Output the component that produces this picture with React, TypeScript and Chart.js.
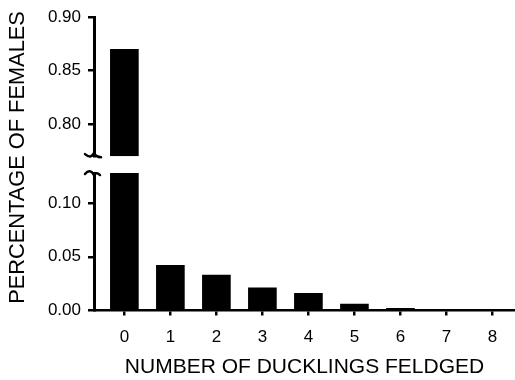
import React, { useEffect, useRef } from "react";
import { Chart, registerables } from "chart.js";

Chart.register(...registerables);

// Number of ducklings fledged per female and the share of females at each count
const ducklings = [0, 1, 2, 3, 4, 5, 6, 7, 8];
const femaleShare = [0.87, 0.042, 0.033, 0.021, 0.016, 0.006, 0.002, 0.001, 0.0005];

// Broken y axis: an upper and a lower segment
const upperRange = [0.77, 0.9];
const lowerRange = [0, 0.128];
const upperTicks = [0.8, 0.85, 0.9];
const lowerTicks = [0, 0.05, 0.1];

const xTitle = "NUMBER OF DUCKLINGS FELDGED";
const yTitle = "PERCENTAGE OF FEMALES";

const FONT = "'Liberation Sans', Arial, Helvetica, sans-serif";
const INK = "#000";

// Keep each dataset inside the band of its own y scale
const clipToOwnScale = {
  id: "clipToOwnScale",
  beforeDatasetDraw(chart: any, args: any) {
    const { ctx, chartArea } = chart;
    const ys = args.meta.yScale;
    ctx.save();
    ctx.beginPath();
    ctx.rect(chartArea.left - 1, ys.top, chartArea.right - chartArea.left + 2, ys.bottom - ys.top);
    ctx.clip();
  },
  afterDatasetDraw(chart: any) {
    chart.ctx.restore();
  },
};

// Break symbols on the y axis and the rotated y title
const axisDecor = {
  id: "axisDecor",
  afterDraw(chart: any) {
    const { ctx } = chart;
    const top = chart.scales.yTop;
    const bot = chart.scales.yBot;
    const x = top.right;
    ctx.save();
    ctx.strokeStyle = INK;
    ctx.lineWidth = 2.5;
    ctx.lineCap = "round";

    const yb = top.bottom;
    ctx.beginPath();
    ctx.moveTo(x, yb - 3);
    ctx.quadraticCurveTo(x - 3, yb + 3, x - 9, yb - 2);
    ctx.moveTo(x, yb - 3);
    ctx.quadraticCurveTo(x + 2, yb + 1, x + 7, yb + 1);
    ctx.stroke();

    const yt = bot.top;
    ctx.beginPath();
    ctx.moveTo(x, yt + 2);
    ctx.quadraticCurveTo(x - 4, yt - 5, x - 9, yt + 1);
    ctx.moveTo(x, yt + 1);
    ctx.quadraticCurveTo(x + 3, yt - 1, x + 6, yt + 2);
    ctx.stroke();

    ctx.fillStyle = INK;
    ctx.font = `21.8px ${FONT}`;
    ctx.textAlign = "center";
    ctx.textBaseline = "middle";
    ctx.translate(17.5, 157.5);
    ctx.rotate(-Math.PI / 2);
    ctx.fillText(yTitle, 0, 0);
    ctx.restore();
  },
};

const fmt = (v: number) => Number(v).toFixed(2);

export default function App() {
  const canvasRef = useRef<HTMLCanvasElement | null>(null);

  useEffect(() => {
    const canvas = canvasRef.current;
    if (!canvas) return;

    const yCommon = (ticks: number[]) => ({
      type: "linear" as const,
      position: "left" as const,
      stack: "y",
      afterBuildTicks: (s: any) => {
        s.ticks = ticks.map((v) => ({ value: v }));
      },
      afterFit: (s: any) => {
        s.width = 94;
      },
      ticks: {
        color: INK,
        padding: 7,
        font: { size: 17, family: FONT },
        callback: (v: any) => fmt(v),
      },
      grid: {
        drawOnChartArea: false,
        drawTicks: true,
        tickLength: 6,
        tickWidth: 2.5,
        tickColor: INK,
        color: INK,
        lineWidth: 2.5,
      },
      border: { display: true, color: INK, width: 3 },
    });

    const upperPoints = ducklings
      .map((d, i) => ({ x: d, y: femaleShare[i] }))
      .filter((p) => p.y > upperRange[0]);
    const lowerPoints = ducklings.map((d, i) => ({ x: d, y: femaleShare[i] }));

    const chart = new Chart(canvas, {
      type: "bar",
      data: {
        datasets: [
          {
            data: upperPoints,
            yAxisID: "yTop",
            xAxisID: "x",
            backgroundColor: INK,
            barThickness: 28,
            grouped: false,
          } as any,
          {
            data: lowerPoints,
            yAxisID: "yBot",
            xAxisID: "x",
            backgroundColor: INK,
            barThickness: 28,
            grouped: false,
          } as any,
        ],
      },
      options: {
        animation: false,
        responsive: false,
        devicePixelRatio: 1,
        layout: { padding: { top: 15, left: 0, right: 0, bottom: 0 } },
        plugins: {
          legend: { display: false },
          tooltip: { enabled: false },
        },
        scales: {
          x: {
            type: "linear",
            position: "bottom",
            offset: false,
            min: -0.66,
            max: 8.49,
            afterBuildTicks: (s: any) => {
              s.ticks = ducklings.map((v) => ({ value: v }));
            },
            afterFit: (s: any) => {
              s.height = 69.5;
            },
            ticks: {
              color: INK,
              padding: 12,
              font: { size: 17, family: FONT },
              callback: (v: any) => String(v),
            },
            grid: {
              offset: false,
              drawOnChartArea: false,
              drawTicks: true,
              tickLength: 5,
              tickWidth: 2.5,
              tickColor: INK,
              color: INK,
              lineWidth: 2.5,
            },
            border: { display: true, color: INK, width: 2.5 },
            title: {
              display: true,
              text: xTitle,
              color: INK,
              font: { size: 21, family: FONT },
              padding: { top: 0, bottom: 0 },
            },
          },
          yTop: {
            ...yCommon(upperTicks),
            min: upperRange[0],
            max: upperRange[1],
            stackWeight: 140,
            weight: 3,
          },
          yGap: {
            type: "linear",
            position: "left",
            stack: "y",
            stackWeight: 17,
            weight: 2,
            afterFit: (s: any) => {
              s.width = 94;
            },
            ticks: { display: false },
            grid: { display: false },
            border: { display: false },
          },
          yBot: {
            ...yCommon(lowerTicks),
            min: lowerRange[0],
            max: lowerRange[1],
            stackWeight: 138.5,
            weight: 1,
          },
        } as any,
      },
      plugins: [clipToOwnScale, axisDecor],
    });

    return () => chart.destroy();
  }, []);

  return (
    <div style={{ position: "fixed", left: 0, top: 0, width: 515, height: 380, background: "#fff" }}>
      <canvas ref={canvasRef} width={515} height={380} />
    </div>
  );
}
